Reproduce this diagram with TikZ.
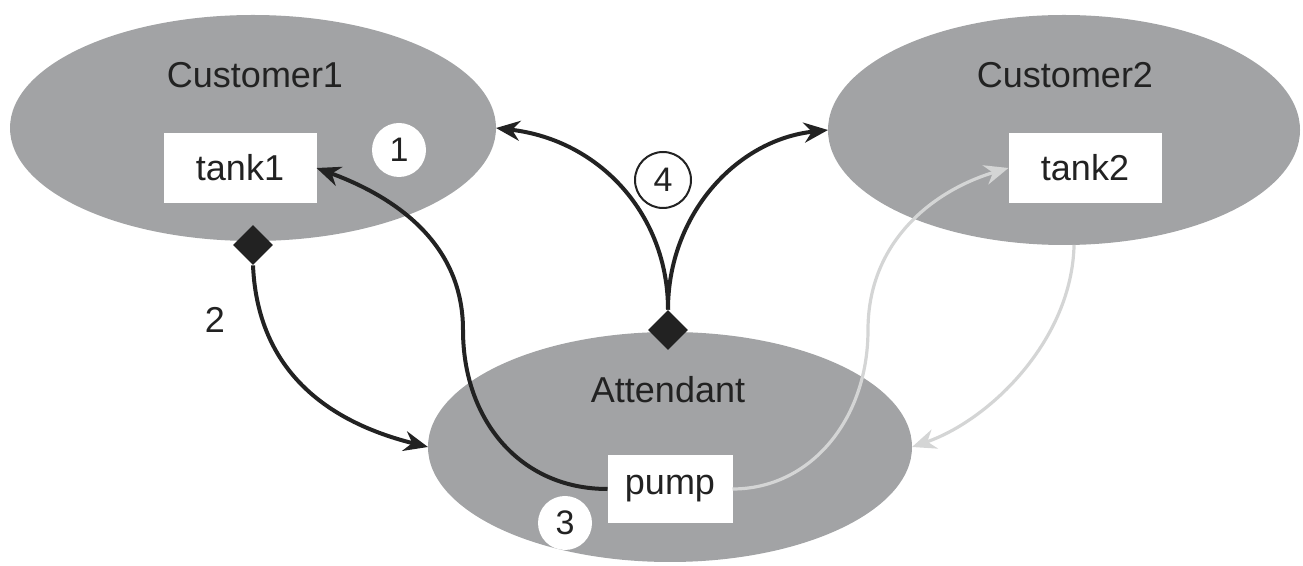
\documentclass[tikz,border=0pt]{standalone}
\usepackage{fontspec}
\setmainfont{Liberation Sans}
\usetikzlibrary{shapes.geometric,arrows.meta}
\definecolor{ovalgray}{HTML}{A2A3A5}
\definecolor{lightline}{HTML}{D4D5D5}
\definecolor{ink}{HTML}{222222}
\tikzset{
  oval/.style={ellipse,fill=ovalgray,draw=none,inner sep=0pt,outer sep=0pt},
  boxnode/.style={rectangle,fill=white,draw=none,inner sep=0pt,outer sep=0pt,text=ink,font=\fontsize{18}{22}\selectfont},
  title/.style={text=ink,font=\fontsize{18}{22}\selectfont},
  numc/.style={circle,fill=white,inner sep=0pt,minimum size=27pt,text=ink,font=\fontsize{17}{20}\selectfont},
  joint/.style={diamond,fill=ink,inner sep=0pt,minimum width=20pt,minimum height=20pt},
  darkarrow/.style={draw=ink,line width=2pt,-{Stealth[length=12pt,width=10pt]}},
  lightarrow/.style={draw=lightline,line width=1.6pt,-{Stealth[length=12pt,width=10pt]}},
}
\begin{document}
\begin{tikzpicture}[x=0.5pt,y=-0.5pt]
\useasboundingbox (0,0) rectangle (1303,566);
% ellipses
\node[oval,minimum width=243pt,minimum height=113pt] (c1) at (253,128) {};
\node[oval,minimum width=236pt,minimum height=115pt] (c2) at (1064,130) {};
\node[oval,minimum width=242pt,minimum height=115pt] (att) at (670,447) {};
% titles
\node[title] (t1) at (255,75) {Customer1};
\node[title] (t2) at (1065,75) {Customer2};
\node[title] (t3) at (668,390) {Attendant};
% boxes
\node[boxnode,minimum width=76.5pt,minimum height=35pt] (tank1) at (240,168) {tank1};
\node[boxnode,minimum width=76.5pt,minimum height=35pt] (tank2) at (1085,168) {tank2};
\node[boxnode,minimum width=62.5pt,minimum height=34pt] (pump) at (670,489) {pump};
% diamonds
\node[joint] (d1) at (253,245) {};
\node[joint] (d2) at (668,330) {};
% connectors
\draw[darkarrow] (d1.south) .. controls (258,380) and (340,425) .. (att.west);
\draw[darkarrow] (pump.west) .. controls (520,489) and (463,420) .. (463,330)
  .. controls (463,240) and (390,195) .. (tank1.east);
\draw[darkarrow] (d2.north) .. controls (668,215) and (600,140) .. (c1.east);
\draw[darkarrow] (d2.north) .. controls (668,215) and (736,140) .. (c2.west);
\draw[lightarrow] (pump.east) .. controls (810,489) and (868,420) .. (868,330)
  .. controls (868,240) and (935,190) .. (tank2.west);
\draw[lightarrow] (c2.-85) .. controls (1072,340) and (990,420) .. (att.east);
% numbers
\node[numc] (n1) at (399,150) {1};
\node[numc] (n3) at (565,523) {3};
\node[numc,draw=ink,line width=1pt,minimum size=28pt] (n4) at (663,180) {4};
\node[title] (n2) at (215,320) {2};
\end{tikzpicture}
\end{document}
